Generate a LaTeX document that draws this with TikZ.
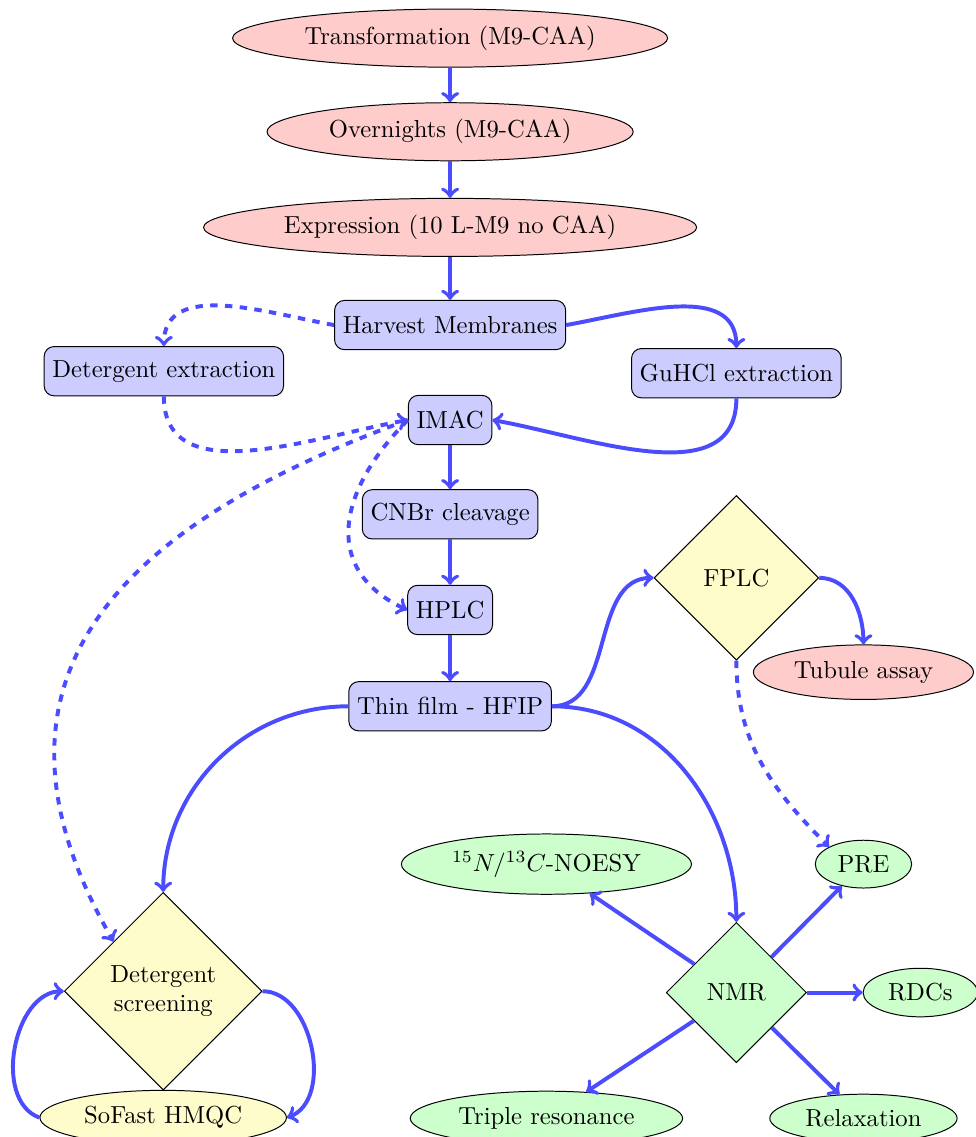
\documentclass[tikz,border=0pt]{standalone}
\usetikzlibrary{shapes.geometric}
\begin{document}
\begin{tikzpicture}[
            x=0.954cm, y=0.954cm,
            box/.style={rectangle, draw, fill=blue!20, rounded corners, minimum height=2em},
            redcloud/.style={ellipse, draw, fill=red!20},
            greencloud/.style={ellipse, draw, fill=green!20},
            decision/.style={diamond, draw, fill=yellow!20, aspect=1, align=center},
            flowline/.style={draw, ultra thick, color=blue!70, ->},
            dashline/.style={flowline, dashed}
        ]
        \useasboundingbox (0,0) rectangle (14.58,-17.0);
        \node[redcloud] (trans) at (6.73,-0.57) {Transformation (M9-CAA)};
        \node[redcloud] (over) at (6.73,-1.97) {Overnights (M9-CAA)};
        \node[redcloud] (expr) at (6.73,-3.40) {Expression (10 L-M9 no CAA)};
        \node[box] (harvest) at (6.73,-4.86) {Harvest Membranes};
        \node[box] (detext) at (2.45,-5.55) {Detergent extraction};
        \node[box] (guhcl) at (11.01,-5.58) {GuHCl extraction};
        \node[box] (imac) at (6.73,-6.28) {IMAC};
        \node[box] (cnbr) at (6.73,-7.69) {CNBr cleavage};
        \node[box] (hplc) at (6.73,-9.12) {HPLC};
        \node[box] (thin) at (6.73,-10.56) {Thin film - HFIP};
        \node[decision, minimum size=2.35cm] (fplc) at (11.01,-8.64) {FPLC};
        \node[redcloud] (tubule) at (12.91,-10.05) {Tubule assay};
        \node[decision, minimum size=2.82cm, text width=4.5em] (detscr) at (2.44,-14.82) {Detergent\\screening};
        \node[ellipse, draw, fill=yellow!20] (sofast) at (2.44,-16.71) {SoFast HMQC};
        \node[decision, fill=green!20, minimum size=2.0cm] (nmr) at (11.01,-14.84) {NMR};
        \node[greencloud] (noesy) at (8.17,-12.92) {$^{15}N/^{13}C$-NOESY};
        \node[greencloud] (pre) at (12.91,-12.92) {PRE};
        \node[greencloud] (rdc) at (13.76,-14.84) {RDCs};
        \node[greencloud] (triple) at (8.17,-16.72) {Triple resonance};
        \node[greencloud] (relax) at (12.91,-16.72) {Relaxation};

        \draw[flowline] (trans) -- (over);
        \draw[flowline] (over) -- (expr);
        \draw[flowline] (expr) -- (harvest);
        \draw[dashline] (harvest.west) to[out=170, in=90] (detext.north);
        \draw[flowline] (harvest.east) to[out=10, in=90] (guhcl.north);
        \draw[dashline] (detext.south) to[out=-90, in=190] (imac.west);
        \draw[flowline] (guhcl.south) to[out=-90, in=-10] (imac.east);
        \draw[flowline] (imac) -- (cnbr);
        \draw[flowline] (cnbr) -- (hplc);
        \draw[flowline] (hplc) -- (thin);
        \draw[dashline] (imac.west) to[out=225, in=155, looseness=1.3] (hplc.west);
        \draw[dashline] (imac.west) to[out=200, in=120, looseness=1.3] (detscr.north west);
        \draw[flowline] (thin.west) to[out=180, in=90] (detscr.north);
        \draw[flowline] (thin.east) to[out=0, in=180] (fplc.west);
        \draw[flowline] (thin.east) to[out=0, in=90] (nmr.north);
        \draw[flowline] (fplc.east) to[out=0, in=90] (tubule.north);
        \draw[dashline] (fplc.south) to[out=-90, in=135] (pre.north west);
        \draw[flowline] (sofast.west) to[out=160, in=180] (detscr.west);
        \draw[flowline] (detscr.east) to[out=0, in=20] (sofast.east);
        \draw[flowline] (nmr) -- (noesy);
        \draw[flowline] (nmr) -- (pre);
        \draw[flowline] (nmr) -- (rdc);
        \draw[flowline] (nmr) -- (triple);
        \draw[flowline] (nmr) -- (relax);
    \end{tikzpicture}
\end{document}
